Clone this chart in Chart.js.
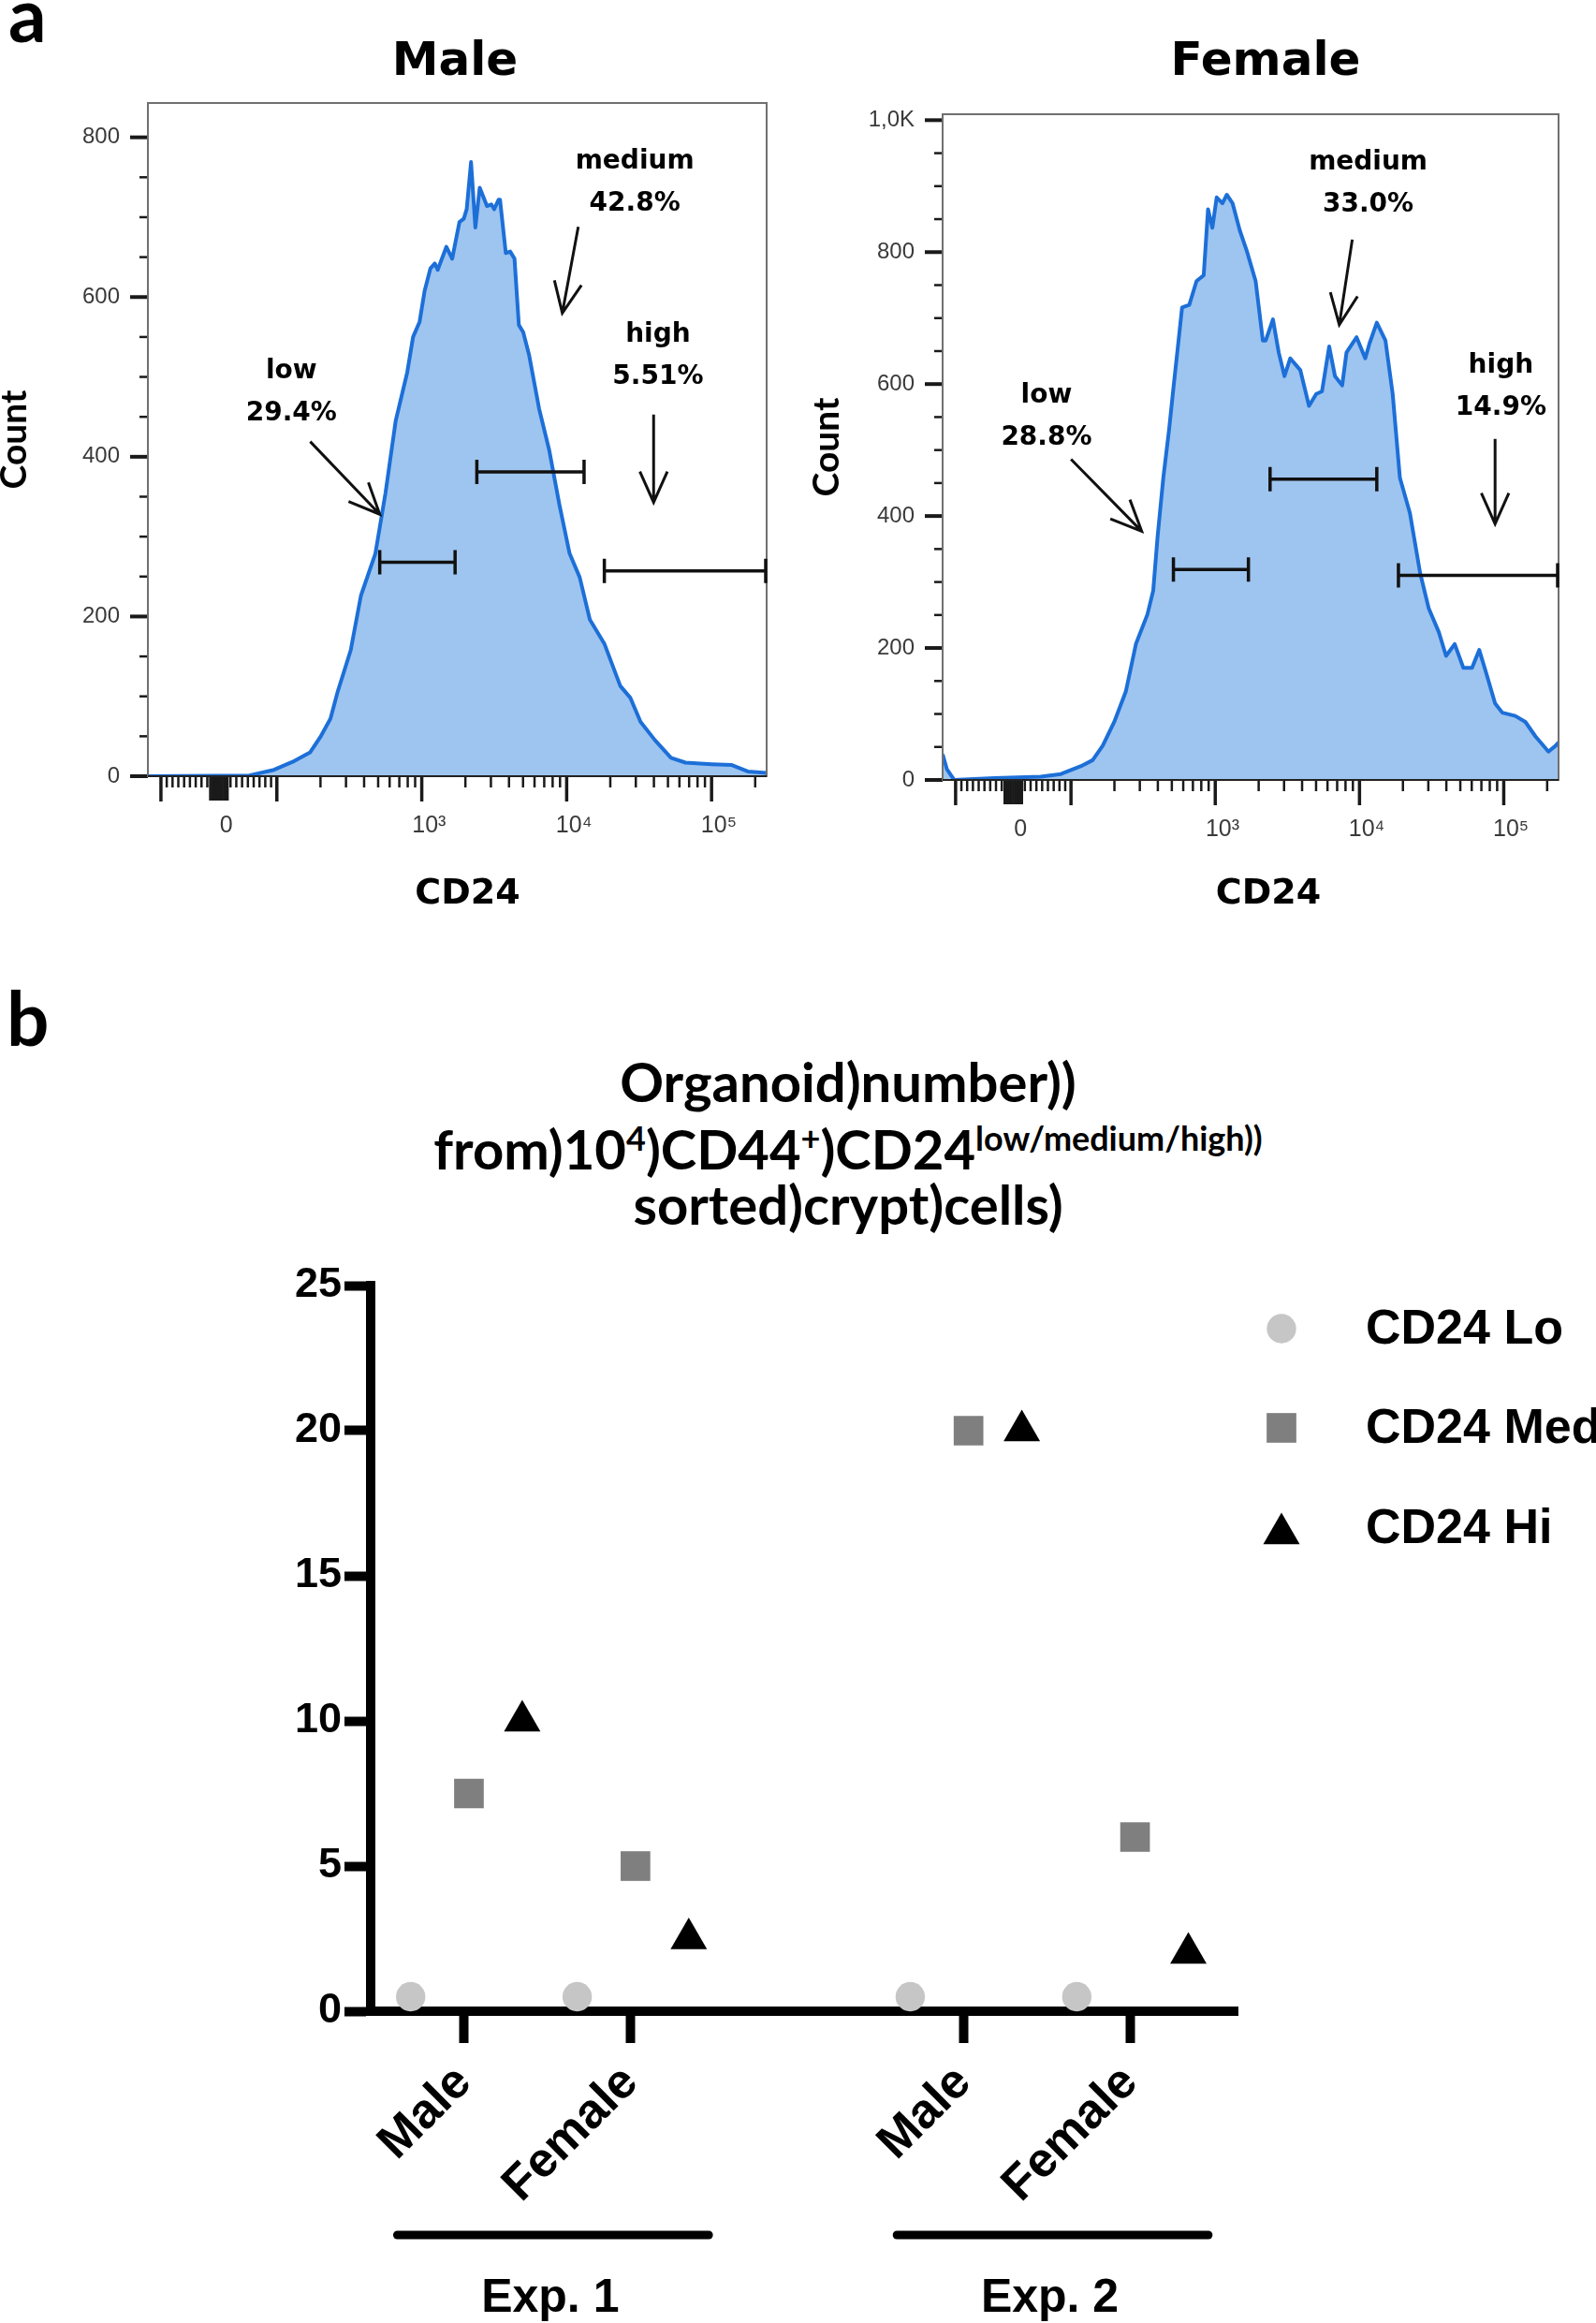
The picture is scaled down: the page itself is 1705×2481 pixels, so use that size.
<!DOCTYPE html>
<html>
<head>
<meta charset="utf-8">
<script src="https://cdn.jsdelivr.net/npm/chart.js@4.4.1/dist/chart.umd.min.js"></script>
<style>
  html, body { margin: 0; padding: 0; background: #fff; }
  body { width: 1705px; height: 2481px; position: relative; overflow: hidden; }
  canvas { position: absolute; }
  .lbl { position: absolute; white-space: nowrap; color: #000; line-height: 1; }
  .panel { font-family: Lato, sans-serif; font-weight: 700; font-size: 80px; }
  .htitle { font-family: 'DejaVu Sans', sans-serif; font-weight: 700; font-size: 50px; transform: translate(-50%, -50%); }
  .btitle { font-family: Lato, sans-serif; font-weight: 700; font-size: 58px; transform: translate(-50%, -50%); }
  .btitle sup { font-size: 0.62em; vertical-align: 0.55em; line-height: 0; }
</style>
</head>
<body>

<div class="lbl panel" style="left:9px;top:-26px">a</div>
<div class="lbl htitle" style="left:486px;top:63px">Male</div>
<div class="lbl htitle" style="left:1352px;top:63px">Female</div>
<canvas id="chartMale" width="850" height="1000" style="left:0;top:0"></canvas>
<canvas id="chartFemale" width="855" height="1000" style="left:850px;top:0"></canvas>

<div class="lbl panel" style="left:7px;top:1046px">b</div>
<div class="lbl btitle" style="left:906px;top:1155px">Organoid)number))</div>
<div class="lbl btitle" style="left:906px;top:1227px">from)10<sup>4</sup>)CD44<sup>+</sup>)CD24<sup>low/medium/high))</sup></div>
<div class="lbl btitle" style="left:906px;top:1286px">sorted)crypt)cells)</div>
<canvas id="chartOrganoid" width="1705" height="1151" style="left:0;top:1330px"></canvas>

<script>
// ---------- panel a : CD24 histograms ----------
// channel = display position on the biexponential axis (10^3 -> 3, 10^4 -> 4 ...)
const xTickLabels = ['0', '10³', '10⁴', '10⁵'];
const xTickValues = [0, 1e3, 1e4, 1e5];

const maleChannel = [1.11, 1.81, 1.98, 2.12, 2.23, 2.30, 2.37, 2.42, 2.51, 2.58, 2.68, 2.75, 2.82, 2.90, 2.94,
  2.985, 3.02, 3.06, 3.09, 3.11, 3.17, 3.21, 3.26, 3.29, 3.31, 3.34, 3.37, 3.40, 3.45, 3.48,
  3.50, 3.53, 3.54, 3.58, 3.61, 3.64, 3.67, 3.70, 3.74, 3.81, 3.88, 3.95, 4.02, 4.09, 4.16,
  4.26, 4.37, 4.44, 4.51, 4.61, 4.72, 4.82, 5.00, 5.14, 5.25, 5.38];
const maleCount = [0, 1, 8, 19, 30, 49, 72, 106, 158, 226, 279, 355, 445, 506, 550,
  569, 608, 636, 642, 634, 663, 648, 694, 698, 710, 769, 687, 737, 714, 716,
  710, 722, 722, 655, 657, 648, 565, 556, 528, 460, 408, 340, 279, 249, 196,
  166, 113, 98, 68, 45, 23, 17, 15, 14, 6, 4];

const femaleChannel = [1.11, 1.14, 1.19, 1.47, 1.79, 1.93, 2.07, 2.15, 2.22, 2.30, 2.38, 2.45, 2.53, 2.57, 2.60,
  2.64, 2.68, 2.71, 2.75, 2.77, 2.82, 2.87, 2.92, 2.95, 2.98, 3.01, 3.05, 3.08, 3.12, 3.17,
  3.22, 3.28, 3.33, 3.35, 3.40, 3.44, 3.48, 3.52, 3.59, 3.65, 3.70, 3.74, 3.79, 3.83, 3.88,
  3.91, 3.98, 4.04, 4.07, 4.12, 4.18, 4.23, 4.28, 4.35, 4.42, 4.48, 4.55, 4.60, 4.66, 4.72,
  4.78, 4.83, 4.88, 4.94, 4.99, 5.08, 5.15, 5.22, 5.31, 5.36, 5.38];
const femaleCount = [39, 16, 0, 3, 5, 9, 21, 30, 52, 88, 134, 206, 251, 287, 368,
  458, 531, 594, 675, 716, 720, 756, 765, 865, 837, 883, 874, 887, 874, 833,
  801, 756, 666, 666, 698, 648, 612, 639, 621, 567, 585, 589, 657, 612, 598,
  648, 671, 639, 662, 693, 666, 585, 458, 404, 314, 260, 224, 188, 206, 170,
  170, 197, 161, 116, 102, 97, 88, 66, 43, 52, 57];

const maleYTicks = [0, 200, 400, 600, 800];
const maleYTickLabels = ['0', '200', '400', '600', '800'];
const femaleYTicks = [0, 200, 400, 600, 800, 1000];
const femaleYTickLabels = ['0', '200', '400', '600', '800', '1,0K'];

const gateNames = ['low', 'medium', 'high'];
const malePercent = ['29.4%', '42.8%', '5.51%'];
const femalePercent = ['28.8%', '33.0%', '14.9%'];
// gates: [from channel, to channel, drawn at count]
const maleGates = [[2.71, 3.23, 268], [3.38, 4.12, 381], [4.26, 5.38, 257]];
const femaleGates = [[2.71, 3.23, 319], [3.38, 4.12, 456], [4.27, 5.38, 310]];

// annotation placement (channel, count)
const maleNotes = {
  text: [[2.10, 507], [4.47, 770], [4.63, 553]],
  arrows: [[2.23, 419, 2.71, 328], [4.08, 688, 3.97, 580], [4.60, 453, 4.60, 343]]
};
const femaleNotes = {
  text: [[1.83, 582], [4.06, 935], [4.98, 628]],
  arrows: [[2.00, 486, 2.49, 377], [3.95, 819, 3.86, 690], [4.94, 517, 4.94, 388]]
};

// biexponential display position of a fluorescence value
function biex(v) {
  if (Math.abs(v) < 100) return 1.6 + v * 0.004;
  return v > 0 ? Math.log10(v) : 3.2 - Math.log10(-v);
}
const axisMajor = [-100, 100, 1e3, 1e4, 1e5];
const axisMinor = [];
for (let v = -90; v <= 90; v += 10) if (v !== 0) axisMinor.push(v);
for (let v = -15; v <= 15; v += 3) axisMinor.push(v);
[1e2, 1e3, 1e4].forEach(d => { for (let k = 2; k <= 9; k++) axisMinor.push(k * d); });
axisMinor.push(2e5);

function drawArrow(ctx, x1, y1, x2, y2) {
  const ang = Math.atan2(y2 - y1, x2 - x1), h = 36, s = 0.42;
  ctx.beginPath();
  ctx.moveTo(x1, y1); ctx.lineTo(x2, y2);
  ctx.moveTo(x2 - h * Math.cos(ang - s), y2 - h * Math.sin(ang - s));
  ctx.lineTo(x2, y2);
  ctx.lineTo(x2 - h * Math.cos(ang + s), y2 - h * Math.sin(ang + s));
  ctx.stroke();
}

const flowMarks = {
  id: 'flowMarks',
  afterDatasetsDraw(chart, args, opts) {
    const { ctx, chartArea: a, scales: { x, y } } = chart;
    ctx.save();
    ctx.strokeStyle = '#1a1a1a';
    ctx.lineCap = 'butt';
    // count ticks
    for (let v = 0; v <= y.max; v += 50) {
      const major = v % 200 === 0, py = y.getPixelForValue(v);
      ctx.lineWidth = major ? 4 : 2.5;
      ctx.beginPath(); ctx.moveTo(a.left, py); ctx.lineTo(a.left - (major ? 19 : 9), py); ctx.stroke();
    }
    // channel ticks
    const tick = (v, len, w) => {
      const u = biex(v);
      if (u < x.min || u > x.max) return;
      const px = x.getPixelForValue(u);
      ctx.lineWidth = w;
      ctx.beginPath(); ctx.moveTo(px, a.bottom); ctx.lineTo(px, a.bottom + len); ctx.stroke();
    };
    axisMinor.forEach(v => tick(v, Math.abs(v) <= 15 ? 26 : 12, 2.5));
    axisMajor.forEach(v => tick(v, 27, 3.5));
    // frame
    ctx.strokeStyle = '#707070';
    ctx.lineWidth = 2;
    ctx.strokeRect(a.left, a.top, a.right - a.left, a.bottom - a.top);
    ctx.strokeStyle = '#222';
    ctx.beginPath(); ctx.moveTo(a.left, a.bottom); ctx.lineTo(a.right, a.bottom); ctx.stroke();
    // gates
    ctx.strokeStyle = '#111';
    ctx.lineWidth = 3.5;
    opts.gates.forEach(g => {
      const x1 = x.getPixelForValue(g[0]), x2 = Math.min(x.getPixelForValue(g[1]), a.right - 1), py = y.getPixelForValue(g[2]);
      ctx.beginPath();
      ctx.moveTo(x1, py); ctx.lineTo(x2, py);
      ctx.moveTo(x1, py - 13); ctx.lineTo(x1, py + 13);
      ctx.moveTo(x2, py - 13); ctx.lineTo(x2, py + 13);
      ctx.stroke();
    });
    // arrows
    ctx.lineWidth = 3;
    opts.notes.arrows.forEach(r => drawArrow(ctx,
      x.getPixelForValue(r[0]), y.getPixelForValue(r[1]), x.getPixelForValue(r[2]), y.getPixelForValue(r[3])));
    // gate labels
    ctx.fillStyle = '#000';
    ctx.font = 'bold 28px "DejaVu Sans"';
    ctx.textAlign = 'center';
    ctx.textBaseline = 'middle';
    opts.notes.text.forEach((t, i) => {
      const px = x.getPixelForValue(t[0]), py = y.getPixelForValue(t[1]);
      ctx.fillText(gateNames[i], px, py);
      ctx.fillText(opts.percent[i], px, py + 45);
    });
    // axis title, sits a little right of centre like the FlowJo export
    ctx.font = 'bold 38px "DejaVu Sans"';
    ctx.fillText('CD24', (a.left + a.right) / 2 + opts.titleShift, 955);
    ctx.restore();
  }
};

function noEdgePadding(s) {
  s.paddingLeft = 0; s.paddingRight = 0; s.paddingTop = 0; s.paddingBottom = 0;
}

function histogram(id, channel, count, cfg) {
  return new Chart(document.getElementById(id), {
    type: 'line',
    data: {
      datasets: [{
        data: channel.map((c, i) => ({ x: c, y: count[i] })),
        fill: 'origin',
        backgroundColor: '#9ec5ef',
        borderColor: '#1d6fd8',
        borderWidth: 4,
        borderJoinStyle: 'round',
        pointRadius: 0,
        tension: 0
      }]
    },
    options: {
      responsive: false,
      animation: false,
      events: [],
      layout: { padding: { top: cfg.top, right: cfg.right, left: 0, bottom: 0 } },
      plugins: {
        legend: { display: false },
        tooltip: { enabled: false },
        flowMarks: { gates: cfg.gates, notes: cfg.notes, percent: cfg.percent, titleShift: cfg.titleShift }
      },
      scales: {
        x: {
          type: 'linear',
          min: 1.11, max: 5.38,
          afterFit: s => { s.height = cfg.xHeight; noEdgePadding(s); },
          afterBuildTicks: s => { s.ticks = xTickValues.map(v => ({ value: biex(v) + 0.05 })); },
          grid: { display: false, drawTicks: false },
          border: { display: false },
          ticks: {
            autoSkip: false, maxRotation: 0, padding: 38,
            color: '#3a3a3a', font: { family: '"Liberation Sans", Arial', size: 25 },
            callback: (v, i) => xTickLabels[i]
          }
        },
        y: {
          min: 0, max: cfg.ymax,
          afterFit: s => { s.width = cfg.yWidth; noEdgePadding(s); },
          afterBuildTicks: s => { s.ticks = cfg.yTicks.map(v => ({ value: v })); },
          grid: { display: false, drawTicks: false },
          border: { display: false },
          ticks: {
            padding: 30, color: '#3a3a3a', font: { family: '"Liberation Sans", Arial', size: 24 },
            callback: (v, i) => cfg.yLabels[i]
          },
          title: {
            display: true, text: 'Count', color: '#000',
            font: { family: 'Lato', weight: 'bold', size: 39, lineHeight: 0.8 },
            padding: { top: cfg.titlePad, bottom: 0 }
          }
        }
      }
    },
    plugins: [flowMarks]
  });
}

histogram('chartMale', maleChannel, maleCount, {
  top: 110, right: 31, xHeight: 171, yWidth: 158, ymax: 843, titlePad: 0, titleShift: 11,
  yTicks: maleYTicks, yLabels: maleYTickLabels,
  gates: maleGates, notes: maleNotes, percent: malePercent
});
histogram('chartFemale', femaleChannel, femaleCount, {
  top: 122, right: 40, xHeight: 167, yWidth: 157, ymax: 1009, titlePad: 18, titleShift: 19,
  yTicks: femaleYTicks, yLabels: femaleYTickLabels,
  gates: femaleGates, notes: femaleNotes, percent: femalePercent
});

// ---------- panel b : organoid number ----------
const experiments = ['Exp. 1', 'Exp. 2'];
const sexes = ['Male', 'Female'];
const seriesNames = ['CD24 Lo', 'CD24 Med', 'CD24 Hi'];
const cd24Lo = [0.5, 0.5, 0.5, 0.5];
const cd24Med = [7.5, 5, 20, 6];
const cd24Hi = [10, 2.5, 20, 2];
const yTicksB = [0, 5, 10, 15, 20, 25];

// one slot per Male/Female column, an empty slot between the experiments
const slots = [], slotLabels = [];
experiments.forEach((e, ei) => sexes.forEach((s, si) => { slots.push(ei * 3 + si); slotLabels.push(s); }));
const spread = [-0.32, 0.03, 0.35];
const seriesStyle = [
  { pointStyle: 'circle', radius: 15.7, color: '#c6c6c6' },
  { pointStyle: 'rect', radius: 22.4, color: '#7f7f7f' },
  { pointStyle: 'triangle', radius: 22.5, color: '#000000' }
];
const seriesValues = [cd24Lo, cd24Med, cd24Hi];

const boldArial = '"Liberation Sans", Arial, sans-serif';

function drawShape(ctx, style, r, x, y) {
  ctx.beginPath();
  if (style === 'circle') ctx.arc(x, y, r, 0, Math.PI * 2);
  else if (style === 'rect') { const h = r * Math.SQRT1_2; ctx.rect(x - h, y - h, 2 * h, 2 * h); }
  else {
    ctx.moveTo(x, y - r);
    ctx.lineTo(x + r * Math.sin(2 * Math.PI / 3), y + r / 2);
    ctx.lineTo(x - r * Math.sin(2 * Math.PI / 3), y + r / 2);
    ctx.closePath();
  }
  ctx.fill();
}

const organoidExtras = {
  id: 'organoidExtras',
  afterDraw(chart) {
    const { ctx, scales: { x } } = chart;
    ctx.save();
    // experiment brackets
    experiments.forEach((e, ei) => {
      const mine = slots.filter((s, i) => Math.floor(i / sexes.length) === ei);
      const x1 = x.getPixelForValue(Math.min(...mine) - 0.4), x2 = x.getPixelForValue(Math.max(...mine) + 0.47);
      ctx.strokeStyle = '#000'; ctx.lineWidth = 9; ctx.lineCap = 'round';
      ctx.beginPath(); ctx.moveTo(x1, 1057); ctx.lineTo(x2, 1057); ctx.stroke();
      ctx.fillStyle = '#000';
      ctx.font = 'bold 50px ' + boldArial;
      ctx.textAlign = 'center'; ctx.textBaseline = 'middle';
      ctx.fillText(e, (x1 + x2) / 2 - 3, 1125);
    });
    // legend
    const rows = [89, 195, 308];
    seriesNames.forEach((n, i) => {
      const st = seriesStyle[i];
      ctx.fillStyle = st.color;
      drawShape(ctx, st.pointStyle, st.radius, 1369, rows[i]);
      ctx.fillStyle = '#000';
      ctx.font = 'bold 52px ' + boldArial;
      ctx.textAlign = 'left'; ctx.textBaseline = 'middle';
      ctx.fillText(n, 1459, i === 2 ? rows[i] - 4 : rows[i] + 2);
    });
    ctx.restore();
  }
};

new Chart(document.getElementById('chartOrganoid'), {
  type: 'scatter',
  data: {
    datasets: seriesNames.map((n, j) => ({
      label: n,
      data: seriesValues[j].map((v, i) => ({ x: slots[i] + spread[j], y: v })),
      pointStyle: seriesStyle[j].pointStyle,
      pointRadius: seriesStyle[j].radius,
      backgroundColor: seriesStyle[j].color,
      borderWidth: 0,
      clip: false
    }))
  },
  options: {
    responsive: false,
    animation: false,
    events: [],
    layout: { padding: { top: 43, right: 383, left: 0, bottom: 0 } },
    plugins: { legend: { display: false }, tooltip: { enabled: false } },
    scales: {
      x: {
        type: 'linear',
        min: -0.56, max: 4.645,
        afterFit: s => { s.height = 333; },
        afterBuildTicks: s => { s.ticks = slots.map(v => ({ value: v })); },
        grid: { display: true, drawOnChartArea: false, tickLength: 34, tickWidth: 10, tickColor: '#000' },
        border: { display: true, width: 10, color: '#000' },
        ticks: {
          autoSkip: false, minRotation: 45, maxRotation: 45, padding: 12,
          color: '#000', font: { family: boldArial, weight: 'bold', size: 52 },
          callback: (v, i) => slotLabels[i]
        }
      },
      y: {
        min: 0, max: 25,
        afterFit: s => { s.width = 396; },
        afterBuildTicks: s => { s.ticks = yTicksB.map(v => ({ value: v })); },
        grid: { display: true, drawOnChartArea: false, tickLength: 28, tickWidth: 10, tickColor: '#000' },
        border: { display: true, width: 10, color: '#000' },
        ticks: { padding: 3, color: '#000', font: { family: boldArial, weight: 'bold', size: 45 } }
      }
    }
  },
  plugins: [organoidExtras]
});
</script>
</body>
</html>
